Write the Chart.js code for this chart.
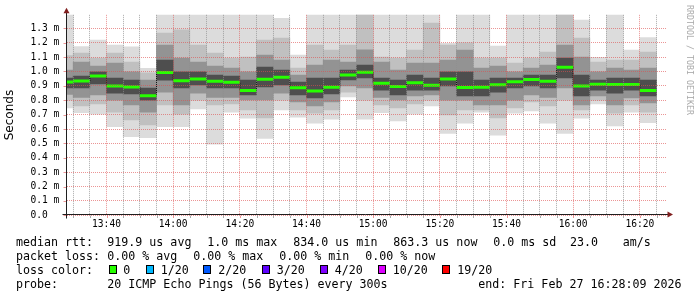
<!DOCTYPE html>
<html>
<head>
<meta charset="utf-8">
<script src="https://cdn.jsdelivr.net/npm/chart.js@4.4.1/dist/chart.umd.min.js"></script>
<style>
  html, body { margin: 0; padding: 0; background: #fff; }
  #wrap { position: relative; width: 697px; height: 297px; overflow: hidden; font-family: "DejaVu Sans Mono", monospace; }
  #chart { position: absolute; left: 0; top: 0; }
  .t { position: absolute; font-size: 11.65px; line-height: 14px; white-space: pre; color: #000; }
  .box { position: absolute; top: 264.5px; width: 8px; height: 9px; border: 1px solid #000; box-sizing: border-box; }
  #mark { position: absolute; left: 693.5px; top: 5px; font-size: 8.3px; line-height: 9.66px; color: #aaa; white-space: pre; transform-origin: 0 0; transform: rotate(90deg); }
</style>
</head>
<body>
<div id="wrap">
  <canvas id="chart" width="697" height="297"></canvas>
  <div id="mark">RRDTOOL / TOBI OETIKER</div>

  <div class="t" style="left:16px;top:234.5px">median rtt:</div>
  <div class="t" style="left:107.3px;top:234.5px">919.9 us avg</div>
  <div class="t" style="left:207.3px;top:234.5px">1.0 ms max</div>
  <div class="t" style="left:293.3px;top:234.5px">834.0 us min</div>
  <div class="t" style="left:393.3px;top:234.5px">863.3 us now</div>
  <div class="t" style="left:493.3px;top:234.5px">0.0 ms sd</div>
  <div class="t" style="left:570px;top:234.5px">23.0</div>
  <div class="t" style="left:622.7px;top:234.5px">am/s</div>

  <div class="t" style="left:16px;top:248.5px">packet loss:</div>
  <div class="t" style="left:107.3px;top:248.5px">0.00 % avg</div>
  <div class="t" style="left:193.3px;top:248.5px">0.00 % max</div>
  <div class="t" style="left:279.3px;top:248.5px">0.00 % min</div>
  <div class="t" style="left:365.3px;top:248.5px">0.00 % now</div>

  <div class="t" style="left:16px;top:262.5px">loss color:</div>
  <div id="lossLegend"></div>

  <div class="t" style="left:16px;top:276.5px">probe:</div>
  <div class="t" style="left:107.3px;top:276.5px">20 ICMP Echo Pings (56 Bytes) every 300s</div>
  <div class="t" style="left:478.3px;top:276.5px">end: Fri Feb 27 16:28:09 2026</div>
</div>
<script>
// 5 minute slots (start time of each step)
const slots = ['13:25', '13:30', '13:35', '13:40', '13:45', '13:50', '13:55',
  '14:00', '14:05', '14:10', '14:15', '14:20', '14:25', '14:30', '14:35', '14:40', '14:45', '14:50', '14:55',
  '15:00', '15:05', '15:10', '15:15', '15:20', '15:25', '15:30', '15:35', '15:40', '15:45', '15:50', '15:55',
  '16:00', '16:05', '16:10', '16:15', '16:20'];

// smoke: sorted ping rtt bands, ms
const pingMin = [0.746, 0.713, 0.704, 0.616, 0.547, 0.540, 0.616, 0.616, 0.740, 0.494, 0.718, 0.675,
  0.535, 0.732, 0.683, 0.640, 0.668, 0.823, 0.668, 0.714, 0.656, 0.704, 0.760, 0.570,
  0.640, 0.718, 0.558, 0.711, 0.725, 0.640, 0.570, 0.675, 0.774, 0.621, 0.718, 0.644];
const pingLo2 = [0.800, 0.760, 0.774, 0.718, 0.663, 0.628, 0.767, 0.704, 0.800, 0.767, 0.774, 0.732,
  0.677, 0.800, 0.732, 0.711, 0.732, 0.857, 0.800, 0.767, 0.746, 0.774, 0.800, 0.698,
  0.732, 0.732, 0.677, 0.746, 0.788, 0.760, 0.800, 0.732, 0.800, 0.711, 0.767, 0.718];
const pingLo3 = [0.840, 0.820, 0.837, 0.800, 0.767, 0.718, 0.857, 0.767, 0.850, 0.820, 0.820, 0.802,
  0.802, 0.850, 0.788, 0.760, 0.788, 0.899, 0.885, 0.820, 0.802, 0.830, 0.837, 0.800,
  0.800, 0.767, 0.767, 0.800, 0.837, 0.820, 0.885, 0.767, 0.830, 0.767, 0.816, 0.781];
const pingLo4 = [0.885, 0.885, 0.913, 0.850, 0.844, 0.800, 0.940, 0.885, 0.906, 0.885, 0.885, 0.837,
  0.892, 0.906, 0.837, 0.816, 0.844, 0.941, 0.955, 0.871, 0.837, 0.871, 0.871, 0.899,
  0.830, 0.830, 0.857, 0.885, 0.899, 0.885, 0.955, 0.830, 0.871, 0.850, 0.871, 0.830];
const medianRtt = [0.927, 0.934, 0.968, 0.899, 0.892, 0.831, 0.993, 0.935, 0.948, 0.932, 0.925, 0.868,
  0.946, 0.960, 0.887, 0.864, 0.890, 0.975, 0.995, 0.918, 0.896, 0.922, 0.904, 0.948,
  0.888, 0.890, 0.908, 0.929, 0.944, 0.932, 1.030, 0.899, 0.911, 0.909, 0.909, 0.868];
const pingHi4 = [0.955, 0.968, 0.997, 0.955, 0.941, 0.885, 1.080, 0.997, 0.997, 0.975, 0.968, 0.941,
  1.031, 1.010, 0.927, 0.955, 0.955, 1.010, 1.045, 0.955, 0.941, 0.975, 0.955, 0.997,
  0.997, 0.941, 0.955, 0.955, 0.975, 0.975, 1.094, 0.975, 0.941, 0.955, 0.955, 0.941];
const pingHi3 = [1.010, 1.066, 1.038, 1.059, 0.997, 0.941, 1.184, 1.094, 1.066, 1.038, 1.024, 0.997,
  1.114, 1.080, 0.975, 1.045, 1.080, 1.066, 1.150, 1.066, 1.010, 1.059, 1.059, 1.080,
  1.149, 1.024, 1.038, 0.997, 1.024, 1.045, 1.184, 1.101, 0.997, 1.024, 1.010, 1.024];
const pingHi2 = [1.110, 1.128, 1.094, 1.128, 1.066, 0.990, 1.268, 1.289, 1.184, 1.128, 1.094, 1.101,
  1.219, 1.233, 1.024, 1.184, 1.149, 1.184, 1.400, 1.101, 1.094, 1.149, 1.337, 1.184,
  1.200, 1.094, 1.094, 1.059, 1.094, 1.135, 1.400, 1.233, 1.066, 1.080, 1.080, 1.135];
const pingMax = [1.400, 1.173, 1.219, 1.184, 1.172, 1.022, 1.400, 1.400, 1.400, 1.400, 1.400, 1.400,
  1.400, 1.370, 1.114, 1.400, 1.400, 1.400, 1.400, 1.400, 1.400, 1.400, 1.400, 1.196,
  1.400, 1.400, 1.177, 1.400, 1.400, 1.400, 1.400, 1.358, 1.099, 1.400, 1.149, 1.235];

const xTickLabels = ['13:40', '14:00', '14:20', '14:40', '15:00', '15:20', '15:40', '16:00', '16:20'];
const yTickValues = [0, 0.1, 0.2, 0.3, 0.4, 0.5, 0.6, 0.7, 0.8, 0.9, 1.0, 1.1, 1.2, 1.3];
const yTickLabels = ['0.0  ', '0.1 m', '0.2 m', '0.3 m', '0.4 m', '0.5 m', '0.6 m', '0.7 m',
  '0.8 m', '0.9 m', '1.0 m', '1.1 m', '1.2 m', '1.3 m'];

const lossLabels = ['0', '1/20', '2/20', '3/20', '4/20', '10/20', '19/20'];
const lossColors = ['#26ff00', '#00b8ff', '#0059ff', '#5e00ff', '#7e00ff', '#dd00ff', '#ff0000'];

const GRID = 'rgba(143,143,143,0.75)';
const MGRID = 'rgba(222,79,79,0.6)';

const toMin = s => { const [h, m] = s.split(':').map(Number); return h * 60 + m; };
const fmt = t => Math.floor(t / 60) + ':' + String(Math.round(t % 60)).padStart(2, '0');
const centers = slots.map(s => toMin(s) + 2.5);
const viewStart = toMin('13:28') + 9 / 60;
const viewEnd = toMin('16:28') + 9 / 60;
const isMajor = v => xTickLabels.includes(fmt(v));

// loss colour legend
const lossPos = [[108.7, 123.3], [146, 160.7], [203.3, 218.3], [261.7, 276.7], [320, 334.8], [378.3, 392.7], [441.7, 457.3]];
const lossLegend = document.getElementById('lossLegend');
lossLabels.forEach((lab, i) => {
  const b = document.createElement('div');
  b.className = 'box';
  b.style.left = lossPos[i][0] + 'px';
  b.style.background = lossColors[i];
  lossLegend.appendChild(b);
  const t = document.createElement('div');
  t.className = 't';
  t.style.left = lossPos[i][1] + 'px';
  t.style.top = '262.5px';
  t.textContent = lab;
  lossLegend.appendChild(t);
});

const band = (lo, hi, color, order) => ({
  type: 'bar',
  data: centers.map((x, i) => ({ x, y: [lo[i], hi[i]] })),
  backgroundColor: color,
  borderWidth: 0,
  grouped: false,
  barPercentage: 1,
  categoryPercentage: 1,
  order,
  clip: 0
});

const rrdAxes = {
  id: 'rrdAxes',
  afterDraw(chart) {
    const { ctx, chartArea: a, scales: { x, y } } = chart;
    const x0 = Math.round(a.left) - 0.5;
    const y0 = Math.round(a.bottom) - 0.5;
    ctx.save();
    ctx.lineWidth = 1;
    // tick stubs
    x.ticks.forEach((t, i) => {
      const px = Math.round(x.getPixelForTick(i)) + 0.5;
      ctx.strokeStyle = isMajor(t.value) ? MGRID : GRID;
      ctx.beginPath(); ctx.moveTo(px, y0 + 1); ctx.lineTo(px, y0 + 3.5); ctx.stroke();
    });
    y.ticks.forEach((t, i) => {
      const py = Math.round(y.getPixelForTick(i)) + 0.5;
      ctx.strokeStyle = MGRID;
      ctx.beginPath(); ctx.moveTo(x0 - 3, py); ctx.lineTo(x0 - 0.5, py); ctx.stroke();
    });
    // axes
    ctx.strokeStyle = '#1f1f1f';
    ctx.beginPath();
    ctx.moveTo(x0 - 4, y0); ctx.lineTo(a.right + 2, y0);
    ctx.moveTo(x0, y0 + 4); ctx.lineTo(x0, a.top - 2);
    ctx.stroke();
    // arrows
    ctx.fillStyle = '#801f1f';
    ctx.beginPath();
    ctx.moveTo(x0, a.top - 7); ctx.lineTo(x0 - 3, a.top - 1.5); ctx.lineTo(x0 + 3, a.top - 1.5); ctx.closePath();
    ctx.fill();
    ctx.beginPath();
    ctx.moveTo(a.right + 6, y0); ctx.lineTo(a.right + 0.5, y0 - 3); ctx.lineTo(a.right + 0.5, y0 + 3); ctx.closePath();
    ctx.fill();
    ctx.restore();
  }
};

Chart.defaults.font.family = '"DejaVu Sans Mono", monospace';
Chart.defaults.color = '#000';

new Chart(document.getElementById('chart').getContext('2d'), {
  type: 'bar',
  data: {
    datasets: [
      {
        type: 'line',
        data: centers.map((x, i) => ({ x, y: medianRtt[i] })),
        showLine: false,
        pointStyle: 'line',
        pointRadius: 8.34,
        pointBorderWidth: 3,
        pointBorderColor: lossColors[0],
        order: 0,
        clip: 0
      },
      {
        type: 'line',
        data: centers.map((x, i) => ({ x, y: medianRtt[i] })),
        stepped: 'middle',
        borderColor: '#000',
        borderWidth: 1,
        borderDash: [1, 1],
        pointRadius: 0,
        order: 1,
        clip: 0
      },
      band(pingLo4, pingHi4, '#4e4e4e', 2),
      band(pingLo3, pingHi3, '#939393', 3),
      band(pingLo2, pingHi2, '#c0c0c0', 4),
      band(pingMin, pingMax, '#dcdcdc', 5)
    ]
  },
  options: {
    responsive: false,
    devicePixelRatio: 1,
    animation: false,
    events: [],
    layout: { padding: { top: 14.84, right: 30, bottom: 0, left: 0 } },
    plugins: { legend: { display: false }, tooltip: { enabled: false } },
    scales: {
      x: {
        type: 'linear',
        offset: false,
        min: viewStart,
        max: viewEnd,
        afterFit: axis => { axis.height = 81.7; },
        afterBuildTicks: axis => {
          const ticks = [];
          for (let t = Math.ceil(viewStart / 5) * 5; t < viewEnd; t += 5) ticks.push({ value: t });
          axis.ticks = ticks;
        },
        grid: {
          z: 1,
          offset: false,
          drawTicks: false,
          lineWidth: 1,
          color: c => (c.tick && isMajor(c.tick.value)) ? MGRID : GRID
        },
        border: { display: false, dash: [1, 1] },
        ticks: {
          autoSkip: false,
          maxRotation: 0,
          minRotation: 0,
          padding: 3.4,
          font: { size: 9.6 },
          callback: v => isMajor(v) ? fmt(v) : ''
        }
      },
      y: {
        type: 'linear',
        min: 0,
        max: 1.394,
        afterFit: axis => { axis.width = 67; },
        afterBuildTicks: axis => { axis.ticks = yTickValues.map(v => ({ value: v })); },
        grid: { z: 1, drawTicks: false, lineWidth: 1, color: MGRID },
        border: { display: false, dash: [1, 1] },
        ticks: {
          padding: 7.7,
          font: { size: 9.6 },
          callback: (v, i) => yTickLabels[i]
        },
        title: {
          display: true,
          text: 'Seconds',
          font: { family: '"DejaVu Sans", sans-serif', size: 12 },
          padding: { top: 2.3, bottom: 0 }
        }
      }
    }
  },
  plugins: [rrdAxes]
});
</script>
</body>
</html>
